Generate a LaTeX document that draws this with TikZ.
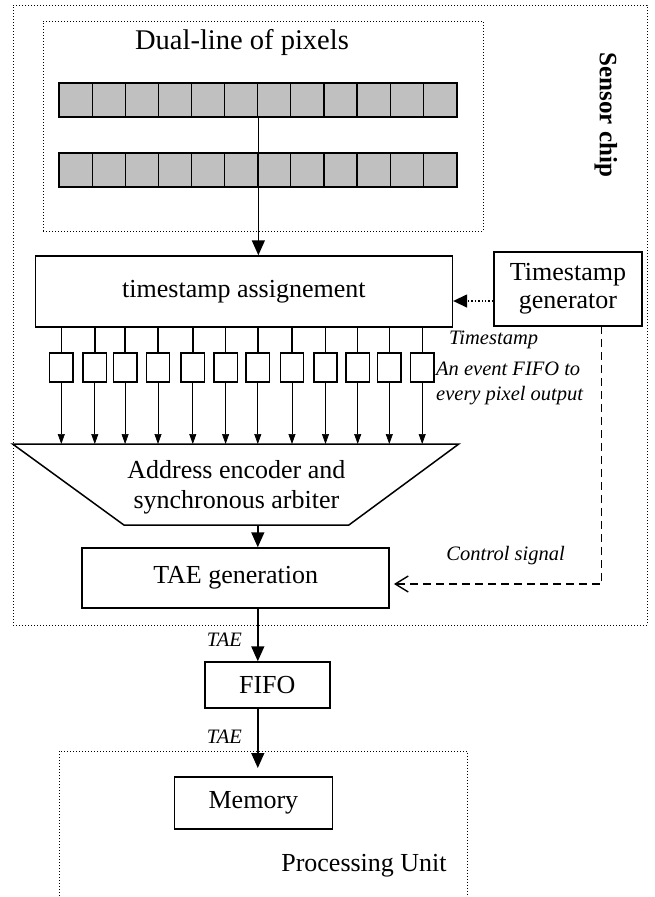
\documentclass[tikz,border=0pt]{standalone}
\usepackage{fontspec}
\setmainfont{Liberation Serif}
\usetikzlibrary{arrows.meta}
\definecolor{pixgray}{RGB}{192,192,192}
\begin{document}
\begin{tikzpicture}[x=1pt,y=-1pt,
 box/.style={draw,line width=1.5pt,inner sep=0pt,align=center,font=\fontsize{26}{28}\selectfont},
 fifobox/.style={draw,line width=1.5pt,minimum width=23.4pt,minimum height=29pt,inner sep=0pt},
 pix/.style={draw,line width=1.1pt,fill=pixgray,minimum width=33.07pt,minimum height=34pt,inner sep=0pt},
 region/.style={draw,line width=1pt,dotted},
 mainarrow/.style={line width=1.5pt,-{Triangle[length=15pt,width=13pt]}},
 thinarrow/.style={line width=0.7pt,-{Triangle[length=10pt,width=7pt]}},
 lbl/.style={font=\fontsize{20.5}{25}\selectfont\itshape,inner sep=0pt,align=left},
 txt/.style={font=\fontsize{26}{30}\selectfont,inner sep=0pt,align=center}
]
\useasboundingbox (0,0) rectangle (655,897);
% regions
\node[region,minimum width=634pt,minimum height=620pt,inner sep=0pt] (chip) at (330,315) {};
\node[region,minimum width=440pt,minimum height=210pt,inner sep=0pt] (dual) at (263,126) {};
\node[rotate=-90,font=\bfseries\fontsize{25}{28}\selectfont,inner sep=0pt] (chiplbl) at (606,115) {Sensor chip};
\node[txt,font=\fontsize{28.5}{32}\selectfont] (dualtitle) at (242,42) {Dual-line of pixels};
% pixel rows
\foreach \i in {0,...,11}{
  \node[pix] (a\i) at ({59.4+33.07*\i+16.535},100) {};
  \node[pix] (b\i) at ({59.4+33.07*\i+16.535},170) {};
}
\draw[line width=1.6pt] (a0.north west) rectangle (a11.south east);
\draw[line width=1.6pt] (b0.north west) rectangle (b11.south east);
% timestamp assignment
\node[box,minimum width=417pt,minimum height=71pt] (ta) at (243.9,291.5) {timestamp assignement};
\draw[mainarrow] (a5.south east) -- (a5.south east |- ta.north);
% generator
\node[box,minimum width=148pt,minimum height=74pt] (gen) at (568,289) {Timestamp\\generator};
\coordinate (g1) at ([yshift=-12pt]gen.west);
\draw[line width=1.4pt,dotted,-{Triangle[length=14pt,width=13pt]}] (g1) -- (g1 -| ta.east);
\node[lbl,anchor=west] (tslbl) at (449,340) {Timestamp};
% trapezoid
\coordinate (trapTL) at (12.6,444);
\coordinate (trapTR) at (458.8,444);
\coordinate (trapBR) at (348.9,525);
\coordinate (trapBL) at (123.9,525);
\draw[line width=1.5pt,line join=miter] (trapTL) -- (trapTR) -- (trapBR) -- (trapBL) -- cycle;
\node[txt] (enc) at (236.4,487) {Address encoder and\\synchronous arbiter};
% small FIFOs
\foreach \i/\x in {0/61.3,1/94.8,2/125.1,3/158,4/192.8,5/225.6,6/257.8,7/292,8/325.5,9/357.7,10/389.3,11/422.2}{
  \node[fifobox] (f\i) at (\x,367.5) {};
  \draw[line width=1.4pt] (f\i.north |- ta.south) -- (f\i.north);
  \draw[thinarrow] (f\i.south) -- (f\i.south |- trapTL);
}
\node[lbl,anchor=west] (fifolbl) at (436,383) {An event FIFO to\\every pixel output};
% TAE generation
\coordinate (trapB) at (257.8,525);
\node[box,minimum width=307pt,minimum height=60pt] (tae) at (235.7,578) {TAE generation};
\draw[mainarrow] (trapB) -- (trapB |- tae.north);
% control signal
\coordinate (g2) at (601.7,326);
\coordinate (c2) at ([yshift=-6pt,xshift=4pt]tae.east);
\draw[line width=1.4pt,dash pattern=on 8pt off 5pt,-{Straight Barb[length=13pt,width=16pt]}] (g2) |- (c2);
\node[lbl] (ctllbl) at (505.6,556) {Control signal};
% FIFO
\node[box,minimum width=125pt,minimum height=46pt] (fifo) at (267.3,685) {FIFO};
\draw[mainarrow] (tae.south -| trapB) -- (fifo.north -| trapB);
\node[lbl] (tae1) at (224.4,640) {TAE};
% processing unit
\draw[region] (59.4,905) -- (59.4,751) -- (467.7,751) -- (467.7,905);
\node[box,minimum width=158pt,minimum height=52pt] (mem) at (253.4,803) {Memory};
\coordinate (memIn) at (257.8,768);
\draw[mainarrow] (fifo.south -| trapB) -- (memIn);
\node[lbl] (tae2) at (224.4,737) {TAE};
\node[txt] (pulbl) at (364,866) {Processing Unit};
\end{tikzpicture}
\end{document}
